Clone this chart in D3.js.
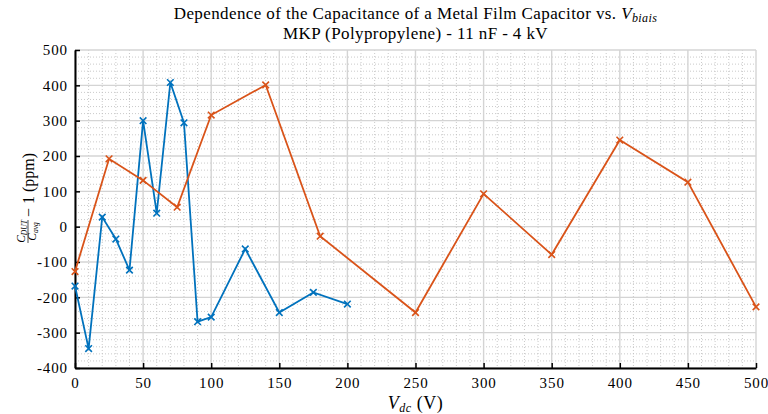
<!DOCTYPE html>
<html><head><meta charset="utf-8">
<script src="https://cdn.jsdelivr.net/npm/d3@7"></script>
<style>body{margin:0;background:#fff}svg{display:block}text{font-family:"Liberation Serif","Times New Roman",serif;fill:#000}</style>
</head><body><svg id="c" width="768" height="414"></svg>
<script>
// Data
const blueX = [0, 10, 20, 30, 40, 50, 60, 70, 80, 90, 100, 125, 150, 175, 200];
const blueY = [-168, -345, 27, -35, -123, 300, 38, 408, 294, -269, -256, -63, -243, -186, -219];
const orangeX = [0, 25, 50, 75, 100, 140, 180, 250, 300, 350, 400, 450, 500];
const orangeY = [-127, 192, 131, 55, 316, 401, -27, -243, 93, -79, 245, 126, -227];
const xTicks = [0, 50, 100, 150, 200, 250, 300, 350, 400, 450, 500];
const yTicks = [-400, -300, -200, -100, 0, 100, 200, 300, 400, 500];

const FONT = '"Liberation Serif", "Times New Roman", serif';
const svg = d3.select("#c");
const L = 75, R = 756, T = 50, B = 368;
const x = d3.scaleLinear().domain([0, 500]).range([L, R]);
const y = d3.scaleLinear().domain([-400, 500]).range([B, T]);

// minor grid
const g = svg.append("g");
const minorX = d3.range(0, 501, 10).filter(v => v % 50 !== 0);
const minorY = d3.range(-400, 501, 20).filter(v => v % 100 !== 0);
g.selectAll(".mx").data(minorX).join("line")
  .attr("x1", d => x(d)).attr("x2", d => x(d)).attr("y1", T).attr("y2", B)
  .attr("stroke", "#bdbdbd").attr("stroke-width", 0.8).attr("stroke-dasharray", "1,2");
g.selectAll(".my").data(minorY).join("line")
  .attr("y1", d => y(d)).attr("y2", d => y(d)).attr("x1", L).attr("x2", R)
  .attr("stroke", "#bdbdbd").attr("stroke-width", 0.8).attr("stroke-dasharray", "1,2");
// major grid
g.selectAll(".Mx").data(xTicks).join("line")
  .attr("x1", d => x(d)).attr("x2", d => x(d)).attr("y1", T).attr("y2", B)
  .attr("stroke", "#d4d4d4").attr("stroke-width", 1.4);
g.selectAll(".My").data(yTicks).join("line")
  .attr("y1", d => y(d)).attr("y2", d => y(d)).attr("x1", L).attr("x2", R)
  .attr("stroke", "#d4d4d4").attr("stroke-width", 1.4);

// axes
const xAxis = d3.axisBottom(x).tickValues(xTicks).tickSizeInner(-5).tickSizeOuter(0).tickPadding(9).tickFormat(d3.format("d"));
const yAxis = d3.axisLeft(y).tickValues(yTicks).tickSizeInner(-5).tickSizeOuter(0).tickPadding(7).tickFormat(d => String(d));
const ax = svg.append("g").attr("transform", `translate(0,${B})`).call(xAxis);
const ay = svg.append("g").attr("transform", `translate(${L},0)`).call(yAxis);
[ax, ay].forEach(a => {
  a.attr("font-family", null).attr("font-size", null);
  a.select(".domain").attr("stroke", "#000").attr("stroke-width", 2);
  a.selectAll(".tick line").attr("stroke", "#000").attr("stroke-width", 1.5);
  a.selectAll(".tick text").style("font-family", FONT).style("font-size", "15px")
    .style("letter-spacing", "0.9px").attr("fill", "#000");
});

// series
function series(xs, ys, color) {
  const pts = xs.map((v, i) => [v, ys[i]]);
  svg.append("path").datum(pts)
    .attr("d", d3.line().x(d => x(d[0])).y(d => y(d[1])))
    .attr("fill", "none").attr("stroke", color).attr("stroke-width", 1.8);
  const s = 3.3;
  svg.append("g").selectAll("path").data(pts).join("path")
    .attr("d", d => { const cx = x(d[0]), cy = y(d[1]);
      return `M${cx - s},${cy - s}L${cx + s},${cy + s}M${cx - s},${cy + s}L${cx + s},${cy - s}`; })
    .attr("stroke", color).attr("stroke-width", 1.6).attr("fill", "none");
}
series(blueX, blueY, "#0072BD");
series(orangeX, orangeY, "#D95319");

// title
const cx = (L + R) / 2;
const t1 = svg.append("text").attr("x", cx).attr("y", 19).attr("text-anchor", "middle")
  .style("font-size", "17px").style("letter-spacing", "0.4px");
t1.append("tspan").text("Dependence of the Capacitance of a Metal Film Capacitor vs. ");
t1.append("tspan").attr("font-style", "italic").text("V");
t1.append("tspan").attr("font-style", "italic").style("font-size", "12px").attr("dy", 3).text("biais");
svg.append("text").attr("x", cx).attr("y", 39).attr("text-anchor", "middle")
  .style("font-size", "17px").style("letter-spacing", "0.4px")
  .text("MKP (Polypropylene) - 11 nF - 4 kV");

// x label
const xl = svg.append("text").attr("x", cx).attr("y", 409).attr("text-anchor", "middle")
  .style("font-size", "18px").style("letter-spacing", "0.5px");
xl.append("tspan").attr("font-style", "italic").text("V");
xl.append("tspan").attr("font-style", "italic").style("font-size", "12px").attr("dy", 3).text("dc");
xl.append("tspan").attr("dy", -3).text(" (V)");

// y label
const yl = svg.append("g").attr("transform", "translate(34,243) rotate(-90)");
const num = yl.append("text").attr("x", 11.5).attr("y", -9.5).attr("text-anchor", "middle").style("font-size", "11.5px").attr("font-style", "italic");
num.append("tspan").text("C");
num.append("tspan").style("font-size", "7.5px").attr("dy", 2).text("DUT");
yl.append("line").attr("x1", 0).attr("x2", 23).attr("y1", -6).attr("y2", -6).attr("stroke", "#000").attr("stroke-width", 0.7);
const den = yl.append("text").attr("x", 11.5).attr("y", 1.5).attr("text-anchor", "middle").style("font-size", "11.5px").attr("font-style", "italic");
den.append("tspan").text("C");
den.append("tspan").style("font-size", "7.5px").attr("dy", 2).text("avg");
yl.append("text").attr("x", 26).attr("y", 0).style("font-size", "16px").text("\u2212 1 (ppm)");
</script></body></html>
